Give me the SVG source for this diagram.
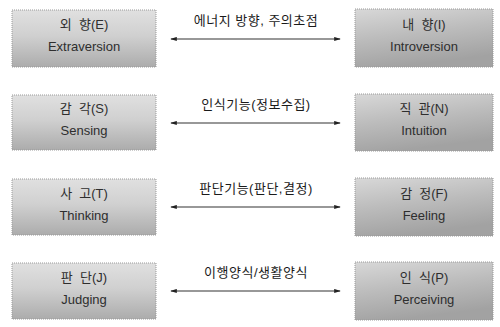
<svg xmlns="http://www.w3.org/2000/svg" width="500" height="327" viewBox="0 0 500 327">
<defs>
<linearGradient id="gl" x1="0" y1="0" x2="0" y2="1">
<stop offset="0" stop-color="#e0e0e0"/>
<stop offset="0.45" stop-color="#d0d0d0"/>
<stop offset="1" stop-color="#acacac"/>
</linearGradient>
<linearGradient id="gr" x1="0" y1="0" x2="0.3" y2="1">
<stop offset="0" stop-color="#d8d8d8"/>
<stop offset="0.5" stop-color="#bcbcbc"/>
<stop offset="1" stop-color="#a2a2a2"/>
</linearGradient>
<marker id="ah" viewBox="0 0 8 6" refX="7" refY="3" markerWidth="7" markerHeight="5" orient="auto-start-reverse" markerUnits="userSpaceOnUse">
<path d="M0,0.5 L8,3 L0,5.5 Z" fill="#222"/>
</marker>
</defs>
<style>
.bl{fill:url(#gl);stroke:#999;stroke-width:1;stroke-dasharray:1 1}
.br{fill:url(#gr);stroke:#999;stroke-width:1;stroke-dasharray:1 1}
.t{font-family:"Liberation Sans","Noto Sans CJK KR",sans-serif;font-size:13px;fill:#2e2e2e;text-anchor:middle;white-space:pre}
.lab{font-family:"Liberation Sans","Noto Sans CJK KR",sans-serif;font-size:13px;fill:#1a1a1a;text-anchor:middle;letter-spacing:0.5px}
.c{stroke:#333;stroke-width:1.2;fill:none;marker-start:url(#ah);marker-end:url(#ah)}
</style>
<g id="n-E"><rect class="bl" x="12" y="10" width="144" height="57"/><text class="t" x="84" y="29">외  향(E)</text><text class="t" x="84" y="51">Extraversion</text></g>
<g id="n-I"><rect class="br" x="355" y="9" width="138" height="58"/><text class="t" x="424" y="29">내  향(I)</text><text class="t" x="424" y="51">Introversion</text></g>
<g id="n-S"><rect class="bl" x="12" y="95" width="144" height="55"/><text class="t" x="84" y="113">감  각(S)</text><text class="t" x="84" y="135">Sensing</text></g>
<g id="n-N"><rect class="br" x="355" y="94" width="138" height="57"/><text class="t" x="424" y="113">직  관(N)</text><text class="t" x="424" y="135">Intuition</text></g>
<g id="n-T"><rect class="bl" x="12" y="179" width="144" height="56"/><text class="t" x="84" y="198">사  고(T)</text><text class="t" x="84" y="220">Thinking</text></g>
<g id="n-F"><rect class="br" x="355" y="178" width="138" height="58"/><text class="t" x="424" y="198">감  정(F)</text><text class="t" x="424" y="220">Feeling</text></g>
<g id="n-J"><rect class="bl" x="12" y="263" width="144" height="56"/><text class="t" x="84" y="282">판  단(J)</text><text class="t" x="84" y="304">Judging</text></g>
<g id="n-P"><rect class="br" x="355" y="262" width="138" height="58"/><text class="t" x="424" y="282">인  식(P)</text><text class="t" x="424" y="304">Perceiving</text></g>
<g id="connectors">
<line class="c" x1="171" y1="39" x2="340" y2="39"/>
<line class="c" x1="171" y1="123" x2="340" y2="123"/>
<line class="c" x1="171" y1="207" x2="340" y2="207"/>
<line class="c" x1="171" y1="291" x2="340" y2="291"/>
<text class="lab" x="256" y="25">에너지 방향, 주의초점</text>
<text class="lab" x="256" y="109">인식기능(정보수집)</text>
<text class="lab" x="256" y="193">판단기능(판단,결정)</text>
<text class="lab" x="256" y="277">이행양식/생활양식</text>
</g>
</svg>
